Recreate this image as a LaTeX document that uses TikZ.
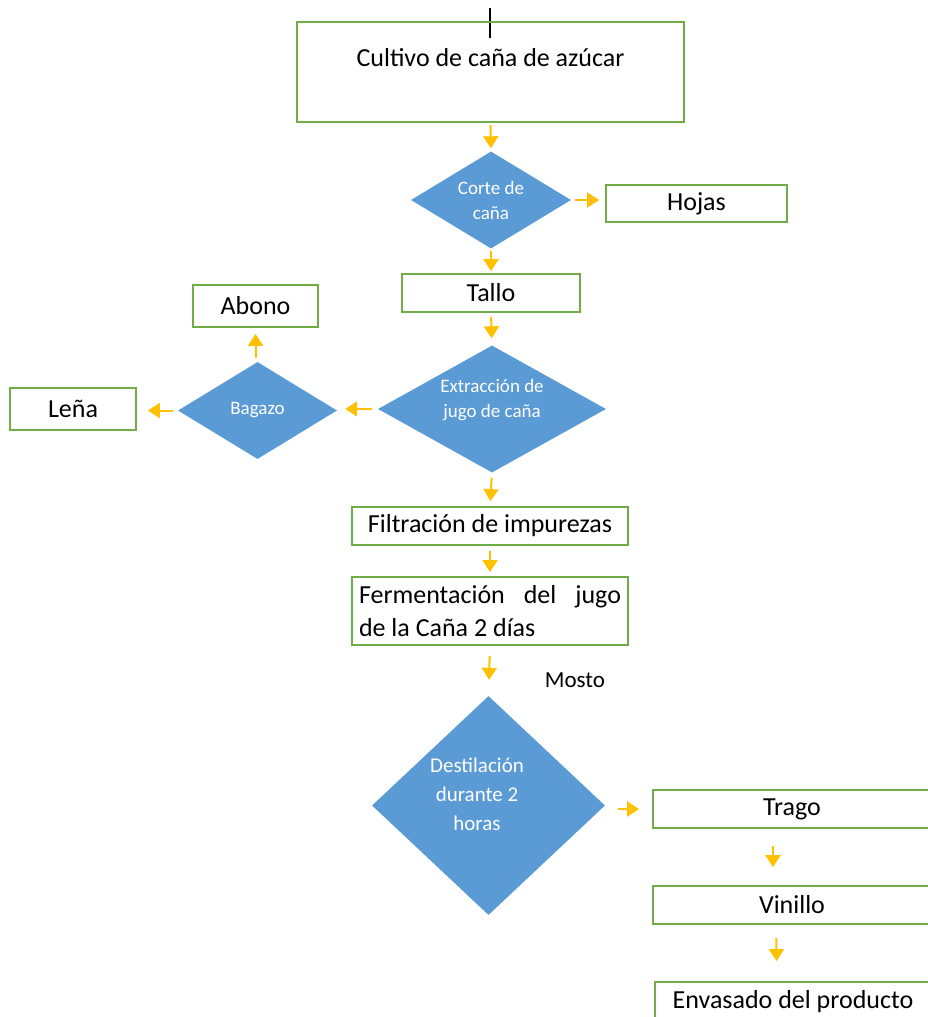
\documentclass[tikz,border=0pt]{standalone}
\usepackage{fontspec}
\setmainfont{Carlito}
\usetikzlibrary{shapes.geometric,arrows.meta}
\definecolor{boxgreen}{HTML}{70AD47}
\definecolor{diablue}{HTML}{5B9BD5}
\definecolor{arrorange}{HTML}{FFC000}
\begin{document}
\begin{tikzpicture}[x=1pt,y=-1pt,
  box/.style={draw=boxgreen,line width=1.8pt,rectangle,inner sep=0pt,text=black,
    font=\fontsize{26}{31}\selectfont},
  dia/.style={diamond,fill=diablue,draw=none,inner sep=0pt,text=white,align=center,
    font=\fontsize{19}{25}\selectfont},
  diatext/.style={text=white,align=center,inner sep=0pt},
  arr/.style={draw=arrorange,line width=2pt,-{Triangle[width=15pt,length=12pt]}}]
\useasboundingbox (0,0) rectangle (927,1017);

% top stub line
\coordinate (stubtop) at (490,8);
\coordinate (stubbot) at (490,38);
\draw[black,line width=1.4pt] (stubtop) -- (stubbot);

% boxes
\node[box,minimum width=387pt,minimum height=100pt,text height=16pt,text depth=27pt] (cult) at (490.5,72) {Cultivo de caña de azúcar};
\node[box,minimum width=181pt,minimum height=37pt] (hojas) at (696.5,203.5) {Hojas};
\node[box,minimum width=178pt,minimum height=38pt] (tallo) at (491,293) {Tallo};
\node[box,minimum width=125pt,minimum height=42pt] (abono) at (255.5,306) {Abono};
\node[box,minimum width=126pt,minimum height=42pt] (lena) at (73,409) {Leña};
\node[box,minimum width=276pt,minimum height=38pt] (filt) at (490,526) {Filtración de impurezas};
\node[box,minimum width=276pt,minimum height=68pt,align=left,
  font=\fontsize{26}{33}\selectfont] (ferm) at (490,611) {\hbox to 262pt{Fermentación\hfill del\hfill jugo}\\de la Caña 2 días\hfill};
\node[box,minimum width=278pt,minimum height=38pt] (trago) at (792,809) {Trago};
\node[box,minimum width=278pt,minimum height=38pt] (vin) at (792,905) {Vinillo};
\node[box,minimum width=276pt,minimum height=40pt] (env) at (793,1002) {Envasado del producto};

% diamonds
\node[dia,aspect=1.65,minimum width=160pt,minimum height=97pt] (d1) at (491,200) {Corte de\\caña};
\node[dia,aspect=1.8,minimum width=228pt,minimum height=127pt,text depth=22pt] (d2) at (492,409) {Extracción de\\jugo de caña};
\node[dia,aspect=1.64,minimum width=159pt,minimum height=97pt] (d3) at (257.5,410.5) {Bagazo};
\node[dia,aspect=1.06,minimum width=233pt,minimum height=219pt] (d4) at (488.5,805.5) {};
\node[diatext,font=\fontsize{21}{29}\selectfont] (d4t) at (477,794) {Destilación\\durante 2\\horas};

% label
\node[font=\fontsize{23}{27}\selectfont,text=black] (mosto) at (575,680) {Mosto};

% arrows
\draw[arr,shorten <=2pt,shorten >=3pt] (cult.south) -- (d1.north);
\draw[arr,shorten <=4pt,shorten >=6pt] (d1.east) -- (d1.east -| hojas.west);
\draw[arr,shorten <=2pt,shorten >=2pt] (d1.south) -- (tallo.north);
\draw[arr,shorten <=4pt,shorten >=7pt] (tallo.south) -- (d2.north);
\draw[arr,shorten <=6pt,shorten >=8pt] (d2.west) -- (d2.west -| d3.east);
\draw[arr,shorten <=4pt,shorten >=6pt] (abono.south |- d3.north) -- (abono.south);
\draw[arr,shorten <=5pt,shorten >=11pt] (d3.west) -- (d3.west -| lena.east);
\draw[arr,shorten <=5pt,shorten >=5pt] (d2.south) -- (filt.north);
\draw[arr,shorten <=5pt,shorten >=4pt] (filt.south) -- (ferm.north);
\draw[arr,shorten <=10pt,shorten >=16pt] (ferm.south) -- (d4.north);
\draw[arr,shorten <=13pt,shorten >=13pt] (d4.east |- trago.west) -- (trago.west);
\draw[arr,shorten <=17pt,shorten >=18pt] ([xshift=-19pt]trago.south) -- ([xshift=-19pt]vin.north);
\draw[arr,shorten <=13pt,shorten >=20pt] ([xshift=-16pt]vin.south) -- ([xshift=-16pt]env.north);
\end{tikzpicture}
\end{document}
